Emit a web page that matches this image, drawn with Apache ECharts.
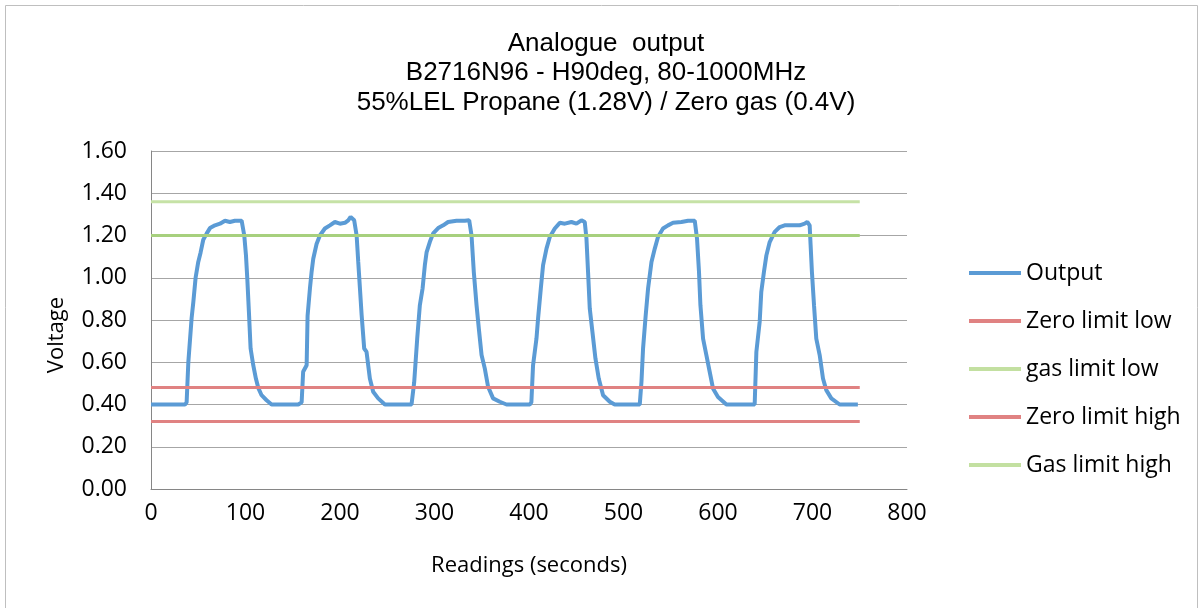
<!DOCTYPE html>
<html>
<head>
<meta charset="utf-8">
<script src="https://cdn.jsdelivr.net/npm/echarts@6/dist/echarts.min.js"></script>
<style>
html,body{margin:0;padding:0;background:#fff;}
#c{width:1202px;height:608px;}
</style>
</head>
<body>
<div id="c"></div>
<script>
// ---- data ----
const titleLines = ['Analogue  output', 'B2716N96 - H90deg, 80-1000MHz', '55%LEL Propane (1.28V) / Zero gas (0.4V)'];
const xTicks = [0, 100, 200, 300, 400, 500, 600, 700, 800];
const yTicks = [0.0, 0.2, 0.4, 0.6, 0.8, 1.0, 1.2, 1.4, 1.6];
const seriesNames = ['Output', 'Zero limit low', 'gas limit low', 'Zero limit high', 'Gas limit high'];

// Output readings (seconds, volts)
const outX = [
  0, 36, 37.7, 39.5, 43, 44.8, 47.2, 50, 52.5, 55.3, 59, 62.4, 67.7, 73, 78.3, 83.5, 88.8, 95.9,
  98.7, 100.5, 101.9, 103.6, 105.4, 108.2, 111, 113.5, 117, 122.3, 127.6, 155.8,
  159.4, 161, 164.7, 165.7, 168.2, 170, 171.7, 175.2, 178.7, 184, 189.3, 194.6, 199.9, 205.2, 208.7, 211.2, 215,
  217.6, 219.3, 221.1, 222.9, 225.6, 228.1, 231.6, 235.1, 240.4, 247.5, 275.7,
  278.5, 281.7, 284.5, 287.4, 289.8, 291.6, 295.1, 298.6, 303.9, 309.2, 314.4, 323.3, 332.1, 336.7,
  339.2, 341.6, 344.5, 346.9, 349.8, 353.2, 356.7, 362, 369.1, 376.2, 400.8,
  402.5, 404.3, 407.9, 409.6, 412.5, 414.9, 418.5, 422, 427.3, 432.6, 437.9, 444.9, 450.2, 455.5, 459,
  460.8, 462.5, 464.3, 467.1, 470.3, 473.8, 478.4, 485.5, 490.7, 517.2,
  519, 520.7, 523.5, 526, 529.6, 533.1, 536.5, 541.8, 547.1, 552.4, 561.3, 568.3, 575.4,
  577.8, 579.9, 581.4, 584.2, 587.7, 591.2, 594.7, 600, 608.9, 638.8,
  640.6, 644.1, 645.8, 648.6, 651.2, 654.7, 660, 665.3, 670.5, 677.6, 686.4, 691.7, 694.5, 697,
  698, 699.4, 701.6, 704, 707.6, 711.1, 714.6, 719.9, 728.7, 748
];
const outY = [
  0.40, 0.40, 0.41, 0.60, 0.81, 0.885, 1.00, 1.075, 1.12, 1.18, 1.21, 1.235, 1.248, 1.256, 1.27, 1.264, 1.27, 1.27,
  1.20, 1.106, 0.996, 0.84, 0.665, 0.586, 0.523, 0.479, 0.444, 0.42, 0.40, 0.40,
  0.41, 0.555, 0.586, 0.82, 0.95, 1.03, 1.09, 1.16, 1.20, 1.233, 1.248, 1.264, 1.256, 1.26, 1.272, 1.288, 1.272,
  1.20, 1.075, 0.95, 0.823, 0.665, 0.649, 0.523, 0.46, 0.429, 0.40, 0.40,
  0.505, 0.712, 0.87, 0.95, 1.06, 1.12, 1.17, 1.21, 1.235, 1.248, 1.264, 1.27, 1.27, 1.272,
  1.20, 1.027, 0.87, 0.76, 0.634, 0.571, 0.484, 0.429, 0.413, 0.40, 0.40,
  0.41, 0.586, 0.712, 0.807, 0.949, 1.06, 1.138, 1.193, 1.233, 1.26, 1.256, 1.264, 1.256, 1.272, 1.264,
  1.185, 1.027, 0.854, 0.744, 0.618, 0.523, 0.444, 0.413, 0.40, 0.40,
  0.507, 0.665, 0.823, 0.949, 1.075, 1.138, 1.193, 1.233, 1.248, 1.26, 1.264, 1.27, 1.27,
  1.185, 1.027, 0.87, 0.712, 0.634, 0.555, 0.476, 0.436, 0.40, 0.40,
  0.649, 0.791, 0.933, 1.027, 1.106, 1.169, 1.217, 1.24, 1.248, 1.248, 1.248, 1.256, 1.264, 1.248,
  1.154, 1.027, 0.87, 0.712, 0.634, 0.523, 0.468, 0.429, 0.40, 0.40
];
// limit lines: [start, end] readings and level
const limitRange = [0, 750];
const zeroLimitLow = 0.32;
const gasLimitLow = 1.20;
const zeroLimitHigh = 0.48;
const gasLimitHigh = 1.36;

// ---- build ----
const outputData = outX.map((x, i) => [x, outY[i]]);
const flat = v => limitRange.map(x => [x, v]);

const axisFont = 'Open Sans';
const chart = echarts.init(document.getElementById('c'), null, {renderer: 'canvas'});
chart.setOption({
  animation: false,
  backgroundColor: '#fff',
  title: {
    text: titleLines.join('\n'),
    left: 601, top: 24, textAlign: 'center',
    textStyle: {fontFamily: 'Liberation Sans', fontSize: 26, fontWeight: 'normal', color: '#000', lineHeight: 29.5}
  },
  graphic: [
    {type: 'rect', shape: {x: 5.5, y: 5.5, width: 1192, height: 610}, style: {fill: 'none', stroke: '#bfbfbf', lineWidth: 1}, silent: true},
    {type: 'text', x: 57, y: 335, rotation: Math.PI / 2,
     style: {text: 'Voltage', fontFamily: axisFont, fontSize: 22, fill: '#000', align: 'center', verticalAlign: 'middle'}}
  ],
  legend: {
    orient: 'vertical', left: 964, top: 256,
    itemWidth: 52, itemHeight: 4, itemGap: 24, icon: 'rect',
    data: seriesNames,
    textStyle: {fontFamily: axisFont, fontSize: 23, color: '#000', lineHeight: 24}
  },
  grid: {left: 151, right: 295, top: 151, bottom: 119, containLabel: false},
  xAxis: {
    type: 'value', min: xTicks[0], max: xTicks[xTicks.length - 1], interval: xTicks[1] - xTicks[0],
    name: 'Readings (seconds)', nameLocation: 'middle', nameGap: 66,
    nameTextStyle: {fontFamily: axisFont, fontSize: 22, color: '#000'},
    axisLine: {show: true, lineStyle: {color: '#868686', width: 1}},
    axisTick: {show: false},
    splitLine: {show: false},
    axisLabel: {margin: 13, fontFamily: axisFont, fontSize: 23, color: '#000'}
  },
  yAxis: {
    type: 'value', min: yTicks[0], max: yTicks[yTicks.length - 1], interval: 0.2,
    axisLine: {show: true, lineStyle: {color: '#868686', width: 1}},
    axisTick: {show: false},
    splitLine: {show: true, lineStyle: {color: '#a6a6a6', width: 1}},
    axisLabel: {margin: 24, fontFamily: axisFont, fontSize: 23, color: '#000', formatter: v => v.toFixed(2)}
  },
  series: [
    {name: seriesNames[0], type: 'line', data: outputData, showSymbol: false, symbol: 'none',
     lineStyle: {color: '#5b9bd5', width: 4}, itemStyle: {color: '#5b9bd5'}, z: 3},
    {name: seriesNames[1], type: 'line', data: flat(zeroLimitLow), showSymbol: false, symbol: 'none',
     lineStyle: {color: '#e08282', width: 3}, itemStyle: {color: '#e08282'}, z: 4},
    {name: seriesNames[2], type: 'line', data: flat(gasLimitLow), showSymbol: false, symbol: 'none',
     lineStyle: {color: '#a7d07e', width: 3}, itemStyle: {color: '#c3e0a1'}, z: 4},
    {name: seriesNames[3], type: 'line', data: flat(zeroLimitHigh), showSymbol: false, symbol: 'none',
     lineStyle: {color: '#e08282', width: 3}, itemStyle: {color: '#e08282'}, z: 4},
    {name: seriesNames[4], type: 'line', data: flat(gasLimitHigh), showSymbol: false, symbol: 'none',
     lineStyle: {color: '#c6e2a6', width: 3}, itemStyle: {color: '#c3e0a1'}, z: 4}
  ]
});
</script>
</body>
</html>
